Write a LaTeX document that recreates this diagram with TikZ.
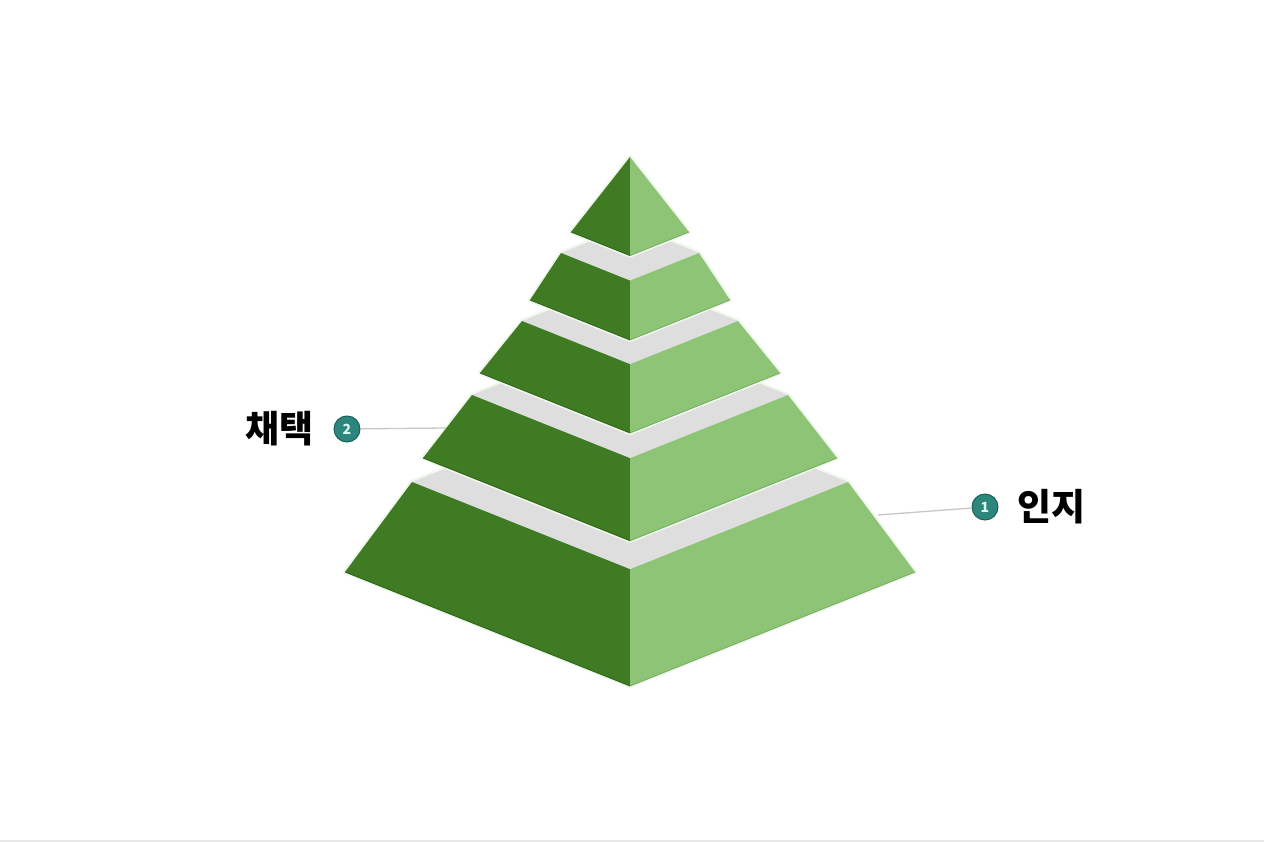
\documentclass[tikz,border=0pt]{standalone}
\usepackage{fontspec}
\usepackage{tikz}
\usetikzlibrary{positioning}

\newfontfamily\kr{Noto Sans CJK KR}

\definecolor{leafdark}{RGB}{62,123,34}
\definecolor{leaflight}{RGB}{141,196,118}
\definecolor{leafedge}{RGB}{45,95,24}
\definecolor{lightedge}{RGB}{118,170,98}
\definecolor{rimpale}{RGB}{240,248,236}
\definecolor{stepgray}{RGB}{223,222,223}
\definecolor{badgeteal}{RGB}{44,134,124}
\definecolor{badgering}{RGB}{28,98,90}
\definecolor{badgetext}{RGB}{220,248,242}
\definecolor{leadergray}{RGB}{200,200,200}
\definecolor{framegray}{RGB}{232,232,232}

\tikzset{
    leftface/.style = {fill=leafdark},
    rightface/.style = {fill=leaflight},
    topface/.style = {fill=stepgray},
    rim/.style = {draw=rimpale, line width=4pt, line join=round},
    badge/.style = {circle, fill=badgeteal, draw=badgering, line width=1pt, text=badgetext,
        minimum size=26pt, inner sep=0pt, font=\kr\bfseries\fontsize{14}{14}\selectfont},
    tag/.style = {inner sep=0pt, text=black, font=\kr\bfseries\fontsize{37}{37}\selectfont},
    leader/.style = {draw=leadergray, line width=1.3pt}
}

% one tier: bottom half width, bottom level, top half width, top level
\newcommand\pyrtier[4]{
    \draw [rim] (630-#1,#2) -- (630,#2+0.4*#1) -- (630+#1,#2) -- (630+#3,#4)
        -- (630,#4-0.4*#3) -- (630-#3,#4) -- cycle;
    \fill [topface] (630-#3,#4) -- (630,#4+0.4*#3) -- (630+#3,#4) -- (630,#4-0.4*#3) -- cycle;
    \fill [leftface] (630-#1,#2) -- (630,#2+0.4*#1) -- (630,#4+0.4*#3) -- (630-#3,#4) -- cycle;
    \fill [rightface] (630+#1,#2) -- (630,#2+0.4*#1) -- (630,#4+0.4*#3) -- (630+#3,#4) -- cycle;
    \draw [leafedge, line width=0.8pt] (630-#1,#2) -- (630,#2+0.4*#1);
    \draw [lightedge, line width=0.8pt] (630,#2+0.4*#1) -- (630+#1,#2);
}

\begin{document}
\begin{tikzpicture} [x=1pt, y=-1pt]

    \fill [white] (0,0) rectangle (1264,842);
    \fill [framegray] (0,840) rectangle (1264,842);

    \pyrtier{285}{572}{218}{482}
    \pyrtier{207}{458}{158}{395}
    \pyrtier{150}{373}{108}{321}
    \pyrtier{100}{300}{69}{253}
    \pyrtier{59}{232}{0}{157}

    \node (b2) [badge] at (347,429) {2};
    \node (t2) [tag, left = 20pt of b2] {채택};
    \node (b1) [badge] at (985,507) {1};
    \node (t1) [tag, right = 19pt of b1] {인지};

    \coordinate (e2) at (446,428);
    \coordinate (e1) at (878,515);

    \path [leader] (b2) -- (e2);
    \path [leader] (b1) -- (e1);

\end{tikzpicture}
\end{document}
